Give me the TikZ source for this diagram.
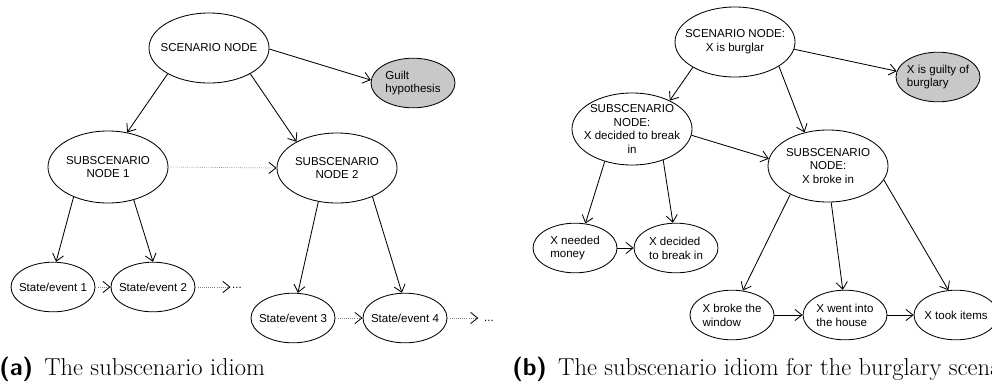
\documentclass[tikz,border=0pt]{standalone}
\usepackage{fontspec}
\newfontfamily\arialfont{Liberation Sans}
\usepackage{tikz}
\usetikzlibrary{arrows.meta}
\usetikzlibrary{shapes.geometric}
\definecolor{guiltgray}{RGB}{200,200,200}

\begin{document}
\begin{tikzpicture}[x=0.025cm, y=-0.025cm,
    every node/.style={font=\arialfont\fontsize{8.2}{9.8}\selectfont},
    bignode/.style={ellipse, draw, line width=0.6pt, inner sep=-2cm, minimum width=3cm, minimum height=1.8cm, align=center},
    smallnode/.style={ellipse, draw, line width=0.6pt, inner sep=-2cm, minimum width=2.1cm, minimum height=1.24cm, align=center},
    guiltnode/.style={smallnode, fill=guiltgray, align=left},
    arr/.style={line width=0.6pt, -{Straight Barb[length=5pt,width=8pt]}},
    dotarr/.style={gray, densely dotted, line width=0.5pt, -{Straight Barb[length=5pt,width=8pt,line width=0.6pt,color=black]}},
    caption/.style={anchor=base west, inner sep=0pt, font=\fontsize{17.4}{20}\selectfont}
  ]
    \useasboundingbox (0,0) rectangle (992,383);

    % (a) the general idiom
    \node[bignode, minimum height=1.75cm] (scen) at (209,48) {SCENARIO NODE};
    \node[guiltnode] (guilt) at (413,83) {Guilt\\hypothesis};
    \node[bignode] (sub1) at (108,167) {SUBSCENARIO\\NODE 1};
    \node[bignode, minimum height=1.75cm] (sub2) at (337,168) {SUBSCENARIO\\NODE 2};
    \foreach \i/\x/\y in {1/53/287, 2/153/287, 3/293/318, 4/405/318} {
        \node[smallnode] (se\i) at (\x,\y) {State/event \i};
    }
    \node[inner sep=1pt] (more1) at (237,288) {...};
    \node[inner sep=1pt] (more2) at (489,321) {...};

    % Draw the arrows
    \foreach \a/\b in {scen.212/sub1.61, scen.328/sub2.147, scen.359/guilt.176,
        sub1.221/se1.83, sub1.308/se2.90, sub2.241/se3.79, sub2.321/se4.97} {
        \draw[arr] (\a) -- (\b);
    }
    \draw[dotarr] (sub1.east) -- (sub2.west);
    \draw[dotarr] (se1.east) -- (se2.west);
    \draw[dotarr] (se2.east) -- (se2.east -| more1.west);
    \draw[dotarr] (se3.east) -- (se4.west);
    \draw[dotarr, shorten >=3pt] (se4.east) -- (se4.east -| more2.west);

    % (b) the burglary example
    \node[bignode, minimum height=1.75cm] (burglar) at (735,42) {SCENARIO NODE:\\X is burglar};
    \node[guiltnode] (guilty) at (938,77) {X is guilty of\\burglary};
    \node[bignode] (decided) at (632,129) {SUBSCENARIO\\NODE:\\X decided to break\\in};
    \node[bignode] (broke) at (828,166) {SUBSCENARIO\\NODE:\\X broke in};
    \node[smallnode, align=left] (money) at (575,248) {X needed\\money};
    \node[smallnode, align=left] (breakin) at (676,248) {X decided\\to break in};
    \node[smallnode, align=left] (window) at (732,315) {X broke the\\window};
    \node[smallnode, align=left] (house) at (845,315) {X went into\\the house};
    \node[smallnode] (items) at (956,315) {X took items};

    % Draw the arrows
    \foreach \a/\b in {burglar.353/guilty.172, burglar.211/decided.37, burglar.331/broke.125,
        decided.354/broke.173, decided.230/money.67, decided.315/breakin.97,
        money.east/breakin.west, broke.217/window.66, broke.275/house.95,
        broke.346/items.107, window.east/house.west, house.east/items.west} {
        \draw[arr] (\a) -- (\b);
    }

    % Captions
    \node[caption] (capa) at (-1,375) {\textsf{\bfseries (a)}\hspace{8pt}The subscenario idiom};
    \node[caption] (capb) at (512,375) {\textsf{\bfseries (b)}\hspace{8pt}The subscenario idiom for the burglary scenario};
\end{tikzpicture}
\end{document}
